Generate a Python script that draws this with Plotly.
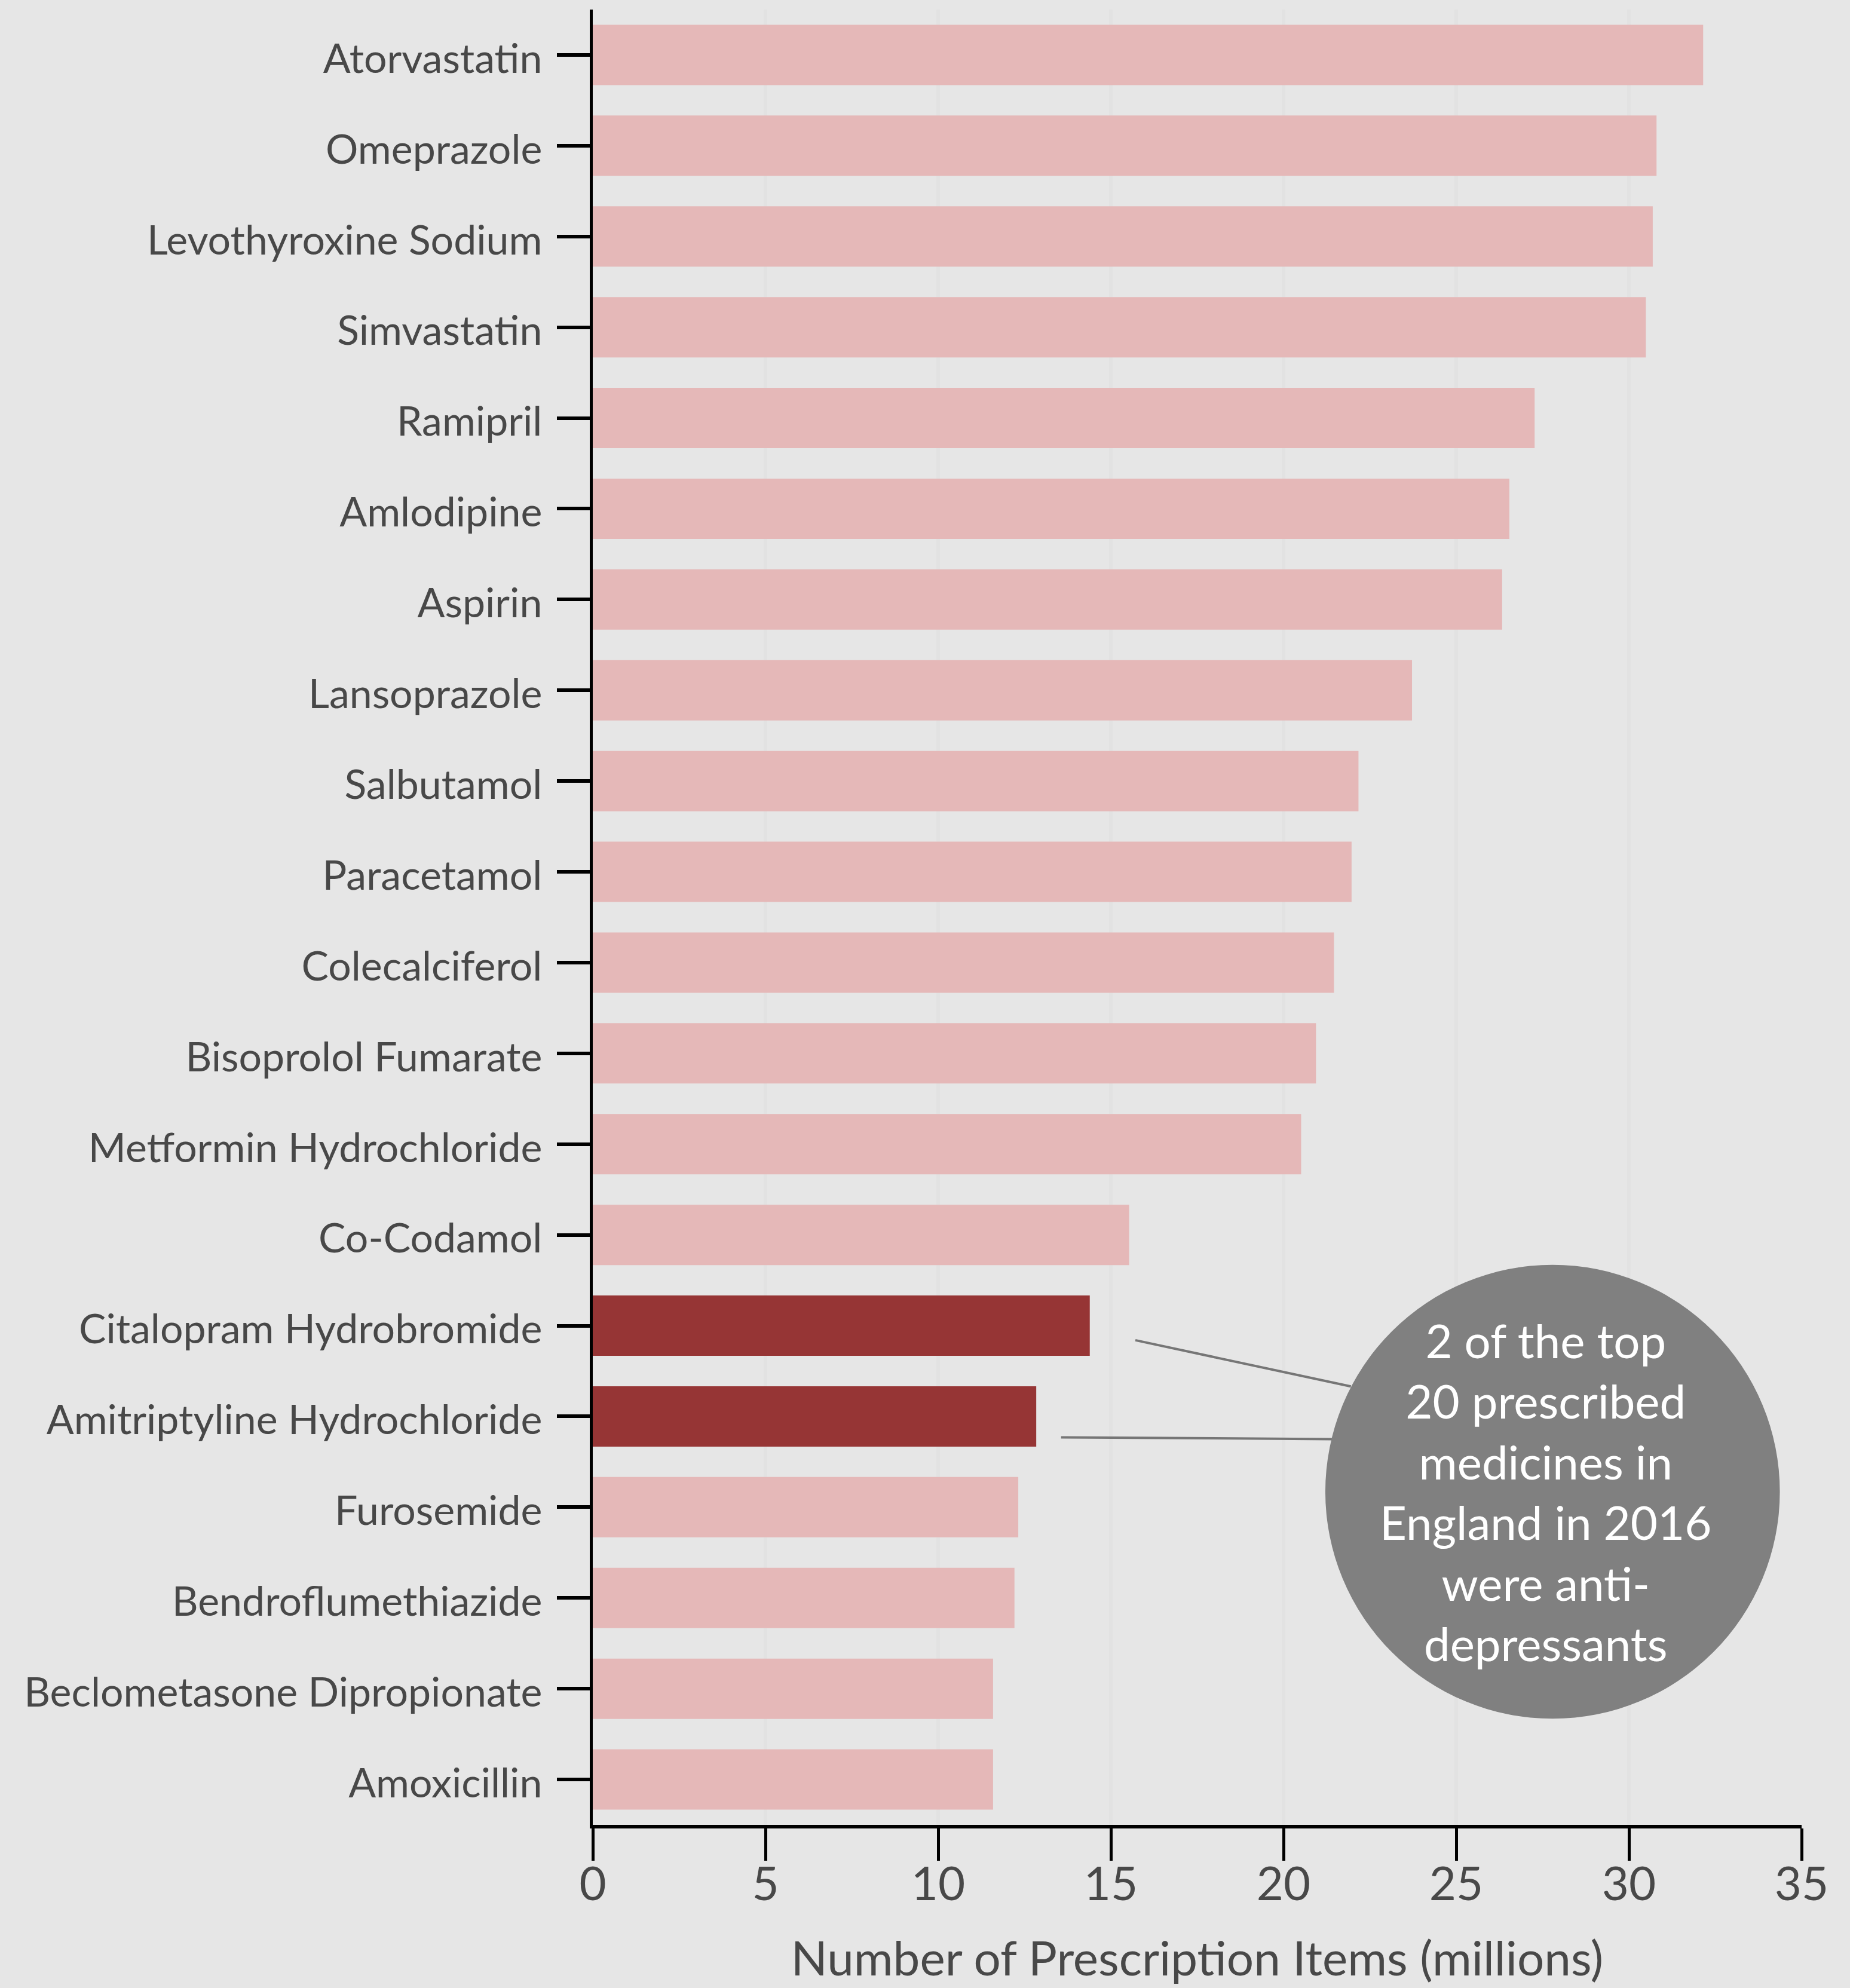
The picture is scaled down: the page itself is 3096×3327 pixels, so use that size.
import plotly.graph_objects as go

drugs = ["Atorvastatin", "Omeprazole", "Levothyroxine Sodium", "Simvastatin", "Ramipril",
         "Amlodipine", "Aspirin", "Lansoprazole", "Salbutamol", "Paracetamol",
         "Colecalciferol", "Bisoprolol Fumarate", "Metformin Hydrochloride", "Co-Codamol",
         "Citalopram Hydrobromide", "Amitriptyline Hydrochloride", "Furosemide",
         "Bendroflumethiazide", "Beclometasone Dipropionate", "Amoxicillin"]
items_millions = [32.15, 30.80, 30.69, 30.49, 27.27, 26.54, 26.33, 23.72, 22.17, 21.97,
                  21.46, 20.94, 20.51, 15.53, 14.39, 12.84, 12.32, 12.21, 11.59, 11.59]
antidepressants = ["Citalopram Hydrobromide", "Amitriptyline Hydrochloride"]
x_ticks = [0, 5, 10, 15, 20, 25, 30, 35]
note_text = "2 of the top<br>20 prescribed<br>medicines in<br>England in 2016<br>were anti-<br>depressants"

PINK = "#e5b8b8"
DARK = "#963535"
BG = "#e6e6e6"
TXT = "#484848"
FONT = "Lato"

colors = [DARK if d in antidepressants else PINK for d in drugs]

fig = go.Figure(go.Bar(
    x=items_millions, y=drugs, orientation="h",
    marker=dict(color=colors, line=dict(width=0)),
    hoverinfo="x+y",
))

fig.update_layout(
    width=3096, height=3327,
    paper_bgcolor=BG, plot_bgcolor=BG,
    margin=dict(l=992, r=81, t=16, b=273, autoexpand=False),
    bargap=0.335,
    showlegend=False,
    font=dict(family=FONT, color=TXT),
)

fig.update_xaxes(
    automargin=False,
    range=[0, 35], tickvals=x_ticks, ticktext=[str(v) for v in x_ticks],
    ticks="outside", ticklen=54, tickwidth=5, tickcolor="black",
    showline=True, linewidth=6, linecolor="black",
    showgrid=True, gridcolor="#e2e2e2", gridwidth=6,
    zeroline=False,
    tickfont=dict(family=FONT, size=78, color=TXT),
    ticklabelstandoff=-28,
    title=dict(text="Number of Prescription Items (millions)",
               font=dict(family=FONT, size=80, color=TXT), standoff=56),
)
fig.update_yaxes(
    automargin=False,
    type="category", categoryorder="array", categoryarray=drugs,
    range=[19.5, -0.5],
    ticks="outside", ticklen=55, tickwidth=6, tickcolor="black",
    showline=True, linewidth=5, linecolor="black",
    showgrid=False, zeroline=False,
    tickfont=dict(family=FONT, size=68, color=TXT),
    ticklabelstandoff=11,
    ticklabelshift=-6,
)

# connector lines from the highlighted bars to the callout circle
fig.add_shape(type="line", xref="x", yref="y", x0=15.71, y0=14.16, x1=21.95, y1=14.67,
              line=dict(color="#767676", width=4))
fig.add_shape(type="line", xref="x", yref="y", x0=13.56, y0=15.23, x1=21.42, y1=15.25,
              line=dict(color="#767676", width=4))
# callout circle
fig.add_shape(type="circle", xref="x", yref="y", x0=21.21, x1=34.37, y0=13.33, y1=18.33,
              fillcolor="#808080", line=dict(width=0), layer="above")

fig.add_annotation(x=27.6, y=15.83, xref="x", yref="y", text=note_text, showarrow=False,
                   font=dict(family=FONT, size=78, color="white"), align="center")

fig.write_html("out.html", config={"displayModeBar": False},
               post_script="document.body.style.margin='0';document.body.style.background='#e6e6e6';")
